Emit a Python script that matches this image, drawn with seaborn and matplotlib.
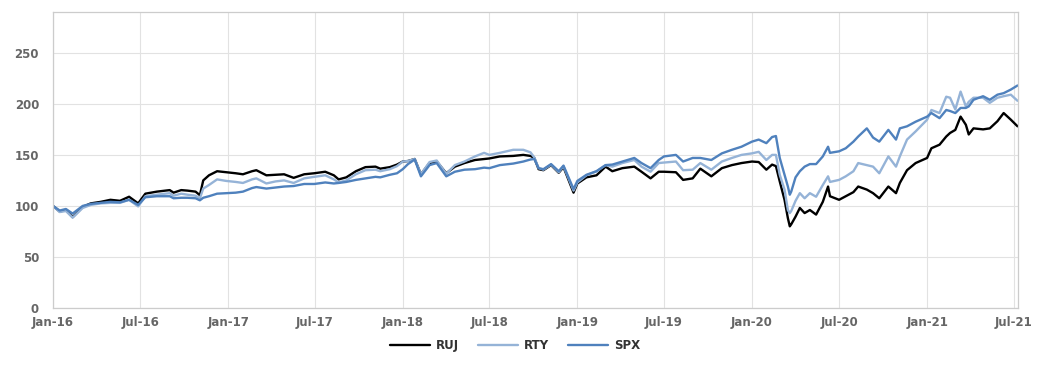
import matplotlib
matplotlib.use("Agg")
import matplotlib.dates as mdates
import matplotlib.pyplot as plt
import pandas as pd
import seaborn as sns

# Values (index, rebased to 100 at Jan-16)
dates = [
    "2016-01-01", "2016-01-15", "2016-01-28", "2016-02-11", "2016-03-03", "2016-03-20",
    "2016-04-10", "2016-04-30", "2016-05-20", "2016-06-08", "2016-06-27", "2016-07-12",
    "2016-08-05", "2016-09-01", "2016-09-09", "2016-09-25", "2016-10-08", "2016-10-25",
    "2016-11-03", "2016-11-10", "2016-11-22", "2016-12-09", "2016-12-28", "2017-01-17",
    "2017-02-01", "2017-02-20", "2017-03-01", "2017-03-22", "2017-04-10", "2017-04-28",
    "2017-05-18", "2017-06-09", "2017-06-30", "2017-07-23", "2017-08-10", "2017-08-20",
    "2017-09-05", "2017-09-25", "2017-10-15", "2017-11-05", "2017-11-15", "2017-12-05",
    "2017-12-20", "2018-01-01", "2018-01-12", "2018-01-26", "2018-02-08", "2018-02-26",
    "2018-03-13", "2018-04-02", "2018-04-20", "2018-05-10", "2018-06-01", "2018-06-20",
    "2018-07-01", "2018-07-23", "2018-08-20", "2018-09-10", "2018-09-25", "2018-10-03",
    "2018-10-12", "2018-10-22", "2018-11-07", "2018-11-23", "2018-12-03", "2018-12-24",
    "2019-01-01", "2019-01-20", "2019-02-10", "2019-03-01", "2019-03-15", "2019-04-05",
    "2019-04-30", "2019-05-15", "2019-06-03", "2019-06-20", "2019-07-01", "2019-07-26",
    "2019-08-10", "2019-08-30", "2019-09-15", "2019-10-08", "2019-10-30", "2019-11-20",
    "2019-12-10", "2020-01-01", "2020-01-15", "2020-01-31", "2020-02-12", "2020-02-20",
    "2020-02-28", "2020-03-09", "2020-03-16", "2020-03-20", "2020-03-23", "2020-04-01",
    "2020-04-10", "2020-04-20", "2020-05-01", "2020-05-14", "2020-05-28", "2020-06-08",
    "2020-06-12", "2020-07-01", "2020-07-15", "2020-07-31", "2020-08-10", "2020-08-28",
    "2020-09-10", "2020-09-23", "2020-10-12", "2020-10-28", "2020-11-05", "2020-11-20",
    "2020-12-08", "2021-01-01", "2021-01-10", "2021-01-27", "2021-02-10", "2021-02-18",
    "2021-03-01", "2021-03-12", "2021-03-23", "2021-03-29", "2021-04-08", "2021-04-28",
    "2021-05-12", "2021-05-28", "2021-06-10", "2021-06-25", "2021-07-09",
]

ruj = [
    100, 94.5, 96, 89, 99, 102.5, 104, 106, 105, 109, 102.5, 112,
    114, 115.5, 113, 115.5, 115, 114, 110.5, 125, 130, 134, 133, 132,
    131, 134, 135, 130, 130.5, 131, 127.5, 131, 132, 133.5, 130, 126,
    128, 134, 138, 138.5, 136.5, 138, 140.5, 143.5, 144, 146, 131, 142,
    143.5, 132, 138.5, 142, 145, 146, 146.5, 148.5, 149, 150, 149, 147,
    136, 135, 140, 132.5, 138, 113, 122, 128, 130, 138.5, 134, 137,
    138.5, 133.5, 127, 133.5, 133.5, 133, 125.5, 127, 136.5, 129, 137, 140,
    142, 143.5, 143, 135.5, 140.5, 139, 124, 106, 88, 80, 82, 89.5,
    98, 93, 96, 91.5, 104, 119, 109.5, 106, 109.5, 113.5, 119, 116,
    112.5, 107.5, 119, 112.5, 122.5, 135, 142, 147, 156.5, 160, 168, 171.5,
    174.5, 187.5, 179.5, 170, 176, 175, 176, 183, 191, 184.5, 178,
]

rty = [
    100, 94, 95, 88.5, 98, 101, 102.5, 103, 103, 106, 99.5, 109.5,
    111, 112.5, 110, 112, 111, 110, 107.5, 117, 120.5, 126, 124.5, 123.5,
    122.5, 126, 127, 122, 124, 125, 122.5, 127, 128.5, 130, 126, 123,
    125, 131, 135, 135.5, 134, 136, 139, 143.5, 144, 146, 131, 143,
    144.5, 131.5, 140, 143.5, 148.5, 152, 150, 152, 155, 155, 152.5, 147.5,
    137, 135.5, 140.5, 133, 139, 115, 123, 130, 134, 140, 138.5, 142,
    145, 138.5, 133.5, 142, 142.5, 143.5, 135, 135.5, 142, 135.5, 143.5, 147,
    150, 151.5, 153, 145, 150, 150, 130.5, 116, 96, 93, 95, 105,
    112.5, 107.5, 112.5, 109, 120.5, 129, 123.5, 125.5, 129, 134, 142, 140,
    138.5, 132, 148.5, 138.5, 148.5, 165, 173, 184.5, 194, 191, 207, 206,
    194.5, 212, 197.5, 202, 206, 206, 201, 206, 207.5, 209, 203,
]

spx = [
    100, 95.5, 97, 92.5, 100, 102, 103, 104, 103.5, 106, 101, 108.5,
    109.5, 109.5, 107.5, 108, 108, 107.5, 105.5, 108, 109.5, 112, 112.5, 113,
    114, 117.5, 118.5, 117, 118, 119, 119.5, 121.5, 121.5, 123, 122, 122.5,
    123.5, 125.5, 127, 128.5, 128, 130.5, 132, 136, 141, 145.5, 129, 140,
    142, 129, 133.5, 135.5, 136, 137.5, 137, 140, 141.5, 143.5, 145.5, 146,
    137, 136, 141, 134, 139.5, 116.5, 124.5, 130.5, 134, 140, 140.5, 143.5,
    147, 142, 137, 145, 148.5, 150, 143.5, 147, 147, 145, 151.5, 155,
    158, 163, 165, 161.5, 167.5, 168.5, 147, 130.5, 119, 111, 114, 128,
    134, 138.5, 141, 141, 148.5, 158, 152, 153.5, 156.5, 163, 168, 176,
    167, 163, 174.5, 165, 176, 178, 182.5, 187.5, 191, 186, 194, 193,
    191, 196, 196, 197.5, 204, 207.5, 204, 209, 210.5, 214, 218,
]

series_names = ["RUJ", "RTY", "SPX"]
colors = ["#000000", "#95b3d7", "#4f81bd"]

df = pd.DataFrame({"date": pd.to_datetime(dates), "RUJ": ruj, "RTY": rty, "SPX": spx})
long_df = df.melt(id_vars="date", var_name="index", value_name="value")

sns.set_theme(style="whitegrid")
plt.rcParams["font.family"] = ["DejaVu Sans"]

fig = plt.figure(figsize=(10.58, 3.66), dpi=100)
ax = fig.add_axes([0.0501, 0.1585, 0.9121, 0.8087])

sns.lineplot(
    data=long_df, x="date", y="value", hue="index",
    hue_order=series_names, palette=colors, linewidth=1.7, ax=ax,
)

ax.set_xlim(pd.Timestamp("2016-01-01"), pd.Timestamp("2021-07-10"))
ax.set_ylim(0, 290)
ax.set_yticks([0, 50, 100, 150, 200, 250])
ax.xaxis.set_major_locator(mdates.MonthLocator(bymonth=[1, 7]))
ax.xaxis.set_major_formatter(mdates.DateFormatter("%b-%y"))
ax.set_xlabel("")
ax.set_ylabel("")

ax.grid(True, color="#e2e2e2", linewidth=0.8)
for spine in ax.spines.values():
    spine.set_color("#cccccc")
    spine.set_linewidth(0.9)

ax.tick_params(axis="x", length=3, color="#cccccc", pad=3, labelsize=8.5, labelcolor="#666666")
ax.tick_params(axis="y", length=0, pad=10, labelsize=8.5, labelcolor="#666666")
for lbl in ax.get_xticklabels() + ax.get_yticklabels():
    lbl.set_fontweight("bold")

leg = ax.legend(
    loc="upper center", bbox_to_anchor=(0.479, -0.068), ncol=3, frameon=False,
    handlelength=3.4, columnspacing=1.6, handletextpad=0.5,
    prop={"weight": "bold", "size": 8.5},
)
for txt in leg.get_texts():
    txt.set_color("#333333")

fig.savefig("out.png", dpi=100)
